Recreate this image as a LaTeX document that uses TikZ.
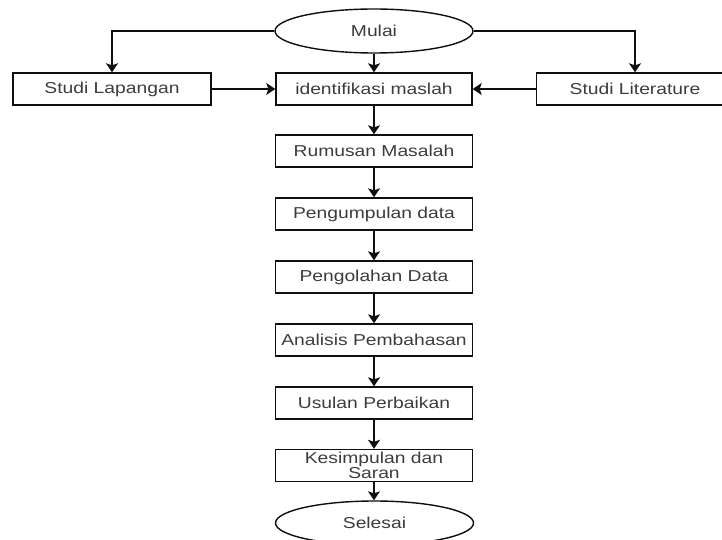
\documentclass[tikz,border=0pt]{standalone}
\usepackage{fontspec}
\setmainfont{Liberation Sans}[FakeStretch=1.22]
\usetikzlibrary{shapes.geometric,arrows.meta}
\definecolor{txt}{RGB}{60,60,60}
\definecolor{ln}{RGB}{15,15,15}
\tikzset{
  stepbox/.style={draw=ln,line width=1.4pt,rectangle,minimum width=197pt,minimum height=32pt,inner sep=0pt,
    font=\fontsize{15.8pt}{17pt}\selectfont,text=txt,align=center},
  term/.style={draw=ln,line width=1.4pt,ellipse,minimum width=198pt,minimum height=44pt,inner sep=0pt,
    font=\fontsize{15.8pt}{17pt}\selectfont,text=txt},
  arr/.style={draw=ln,line width=1.4pt,-{Stealth[width=12pt,length=9pt,inset=2pt]}}
}
\begin{document}
\begin{tikzpicture}[x=1pt,y=-1pt]
\useasboundingbox (0,0) rectangle (722,540);
\node[term] (mulai) at (374,31) {Mulai};
\node[stepbox,minimum width=198pt] (lap) at (112,89) {Studi Lapangan};
\node[stepbox,minimum width=196pt] (iden) at (374,89) {identifikasi maslah};
\node[stepbox] (lit) at (635,89) {Studi Literature};
\node[stepbox] (rum) at (374,151) {Rumusan Masalah};
\node[stepbox] (kum) at (374,214) {Pengumpulan data};
\node[stepbox] (olah) at (374,277) {Pengolahan Data};
\node[stepbox] (ana) at (374,340) {Analisis Pembahasan};
\node[stepbox] (usul) at (374,403) {Usulan Perbaikan};
\node[stepbox,font=\fontsize{15.8pt}{14.5pt}\selectfont] (kes) at (374,465.5) {Kesimpulan dan\\Saran};
\node[term] (sel) at (374.5,523) {Selesai};
\draw[arr] (mulai.west) -| (lap.north);
\draw[arr] (mulai.east) -| (lit.north);
\draw[arr] (mulai.south) -- (iden.north);
\draw[arr] (lap.east) -- (iden.west);
\draw[arr] (lit.west) -- (iden.east);
\draw[arr] (iden.south) -- (rum.north);
\draw[arr] (rum.south) -- (kum.north);
\draw[arr] (kum.south) -- (olah.north);
\draw[arr] (olah.south) -- (ana.north);
\draw[arr] (ana.south) -- (usul.north);
\draw[arr] (usul.south) -- (kes.north);
\draw[arr] (kes.south) -- (kes.south |- sel.north);
\end{tikzpicture}
\end{document}
